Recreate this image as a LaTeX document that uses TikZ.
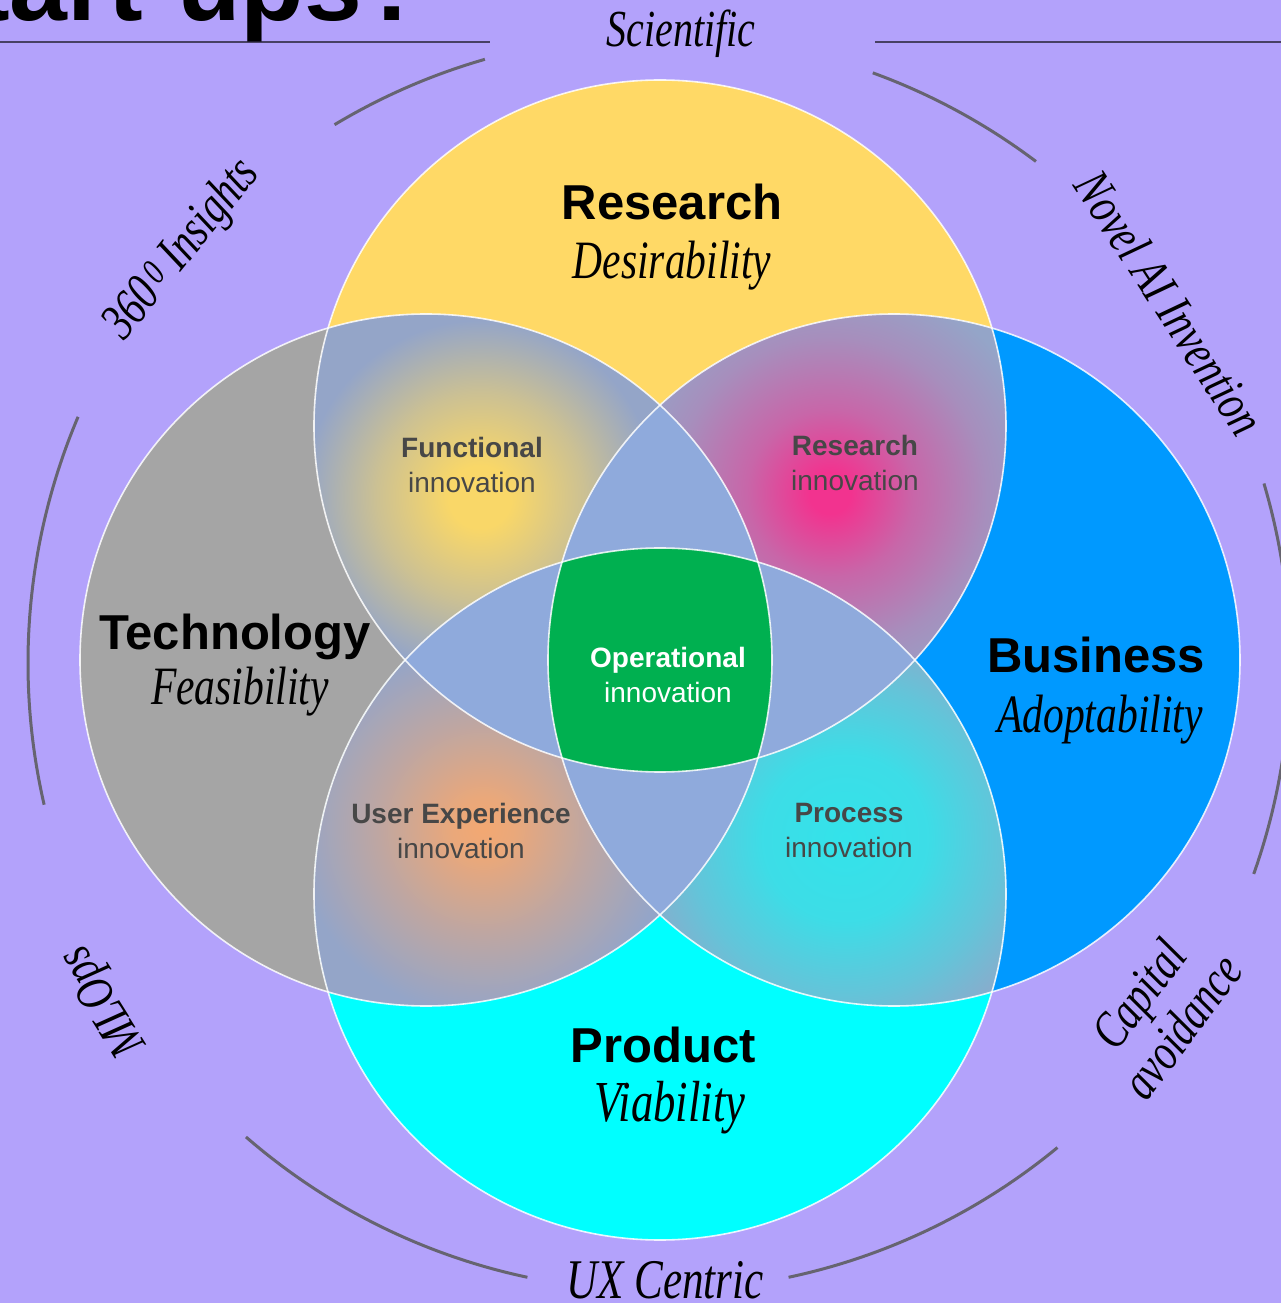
\documentclass[tikz,border=0pt]{standalone}
\usepackage{fontspec}
\setmainfont{Liberation Serif}
\setsansfont{Liberation Sans}
\usetikzlibrary{positioning}

\definecolor{lavender}{HTML}{B3A2FB}
\definecolor{resyellow}{HTML}{FFD966}
\definecolor{techgray}{HTML}{A5A5A5}
\definecolor{busblue}{HTML}{0099FF}
\definecolor{prodcyan}{HTML}{00FFFF}
\definecolor{overlap}{HTML}{8FAADC}
\definecolor{opgreen}{HTML}{00B050}
\definecolor{lensmid}{HTML}{94A5C8}
\definecolor{lensedge}{HTML}{AABCE0}
\definecolor{rimgray}{HTML}{666470}
\definecolor{glowY}{HTML}{F9D768}
\definecolor{glowP}{HTML}{F2338F}
\definecolor{glowO}{HTML}{F3A872}
\definecolor{glowC}{HTML}{33E3EA}

\pgfdeclareradialshading{glowfunc}{\pgfpoint{0bp}{0bp}}{color(0bp)=(glowY); color(3bp)=(glowY); color(10bp)=(glowY!55!lensmid); color(17bp)=(lensmid); color(27bp)=(lensmid); color(42bp)=(lensedge); color(50bp)=(lensedge)}
\pgfdeclareradialshading{glowres}{\pgfpoint{0bp}{0bp}}{color(0bp)=(glowP); color(2bp)=(glowP); color(8bp)=(glowP!55!lensmid); color(15bp)=(glowP!20!lensmid); color(21bp)=(lensmid); color(28bp)=(lensmid); color(42bp)=(lensedge); color(50bp)=(lensedge)}
\pgfdeclareradialshading{glowux}{\pgfpoint{0bp}{0bp}}{color(0bp)=(glowO); color(3bp)=(glowO!90!lensmid); color(10bp)=(glowO!45!lensmid); color(18bp)=(lensmid); color(27bp)=(lensmid); color(42bp)=(lensedge); color(50bp)=(lensedge)}
\pgfdeclareradialshading{glowproc}{\pgfpoint{0bp}{0bp}}{color(0bp)=(glowC); color(8bp)=(glowC!90!lensmid); color(15bp)=(glowC!50!lensmid); color(22bp)=(lensmid); color(29bp)=(lensmid); color(44bp)=(lensedge); color(50bp)=(lensedge)}

\newcommand{\slim}[1]{\scalebox{0.77}[1]{#1}}

\begin{document}
\begin{tikzpicture}[x=1pt,y=1pt,
  every node/.style={inner sep=0pt},
  ring/.style={white, opacity=.85, line width=1.6pt},
  rim/.style={rimgray, line width=3pt},
  rule/.style={black!60!lavender, line width=1.6pt},
  bigname/.style={font=\sffamily\bfseries\fontsize{49}{49}\selectfont, anchor=base},
  quality/.style={font=\itshape\fontsize{54}{54}\selectfont, anchor=base},
  lenstext/.style={font=\sffamily\fontsize{28}{35}\selectfont, align=center, text=black!72},
  rimtext/.style={font=\itshape\fontsize{52}{54}\selectfont, align=center}]
\useasboundingbox (-660,-643) rectangle (621,660);
\clip (-660,-643) rectangle (621,660);
\fill[lavender] (-660,-643) rectangle (621,660);

\coordinate (ro) at (-2,-3);
\coordinate (rc) at (0,234);
\coordinate (tc) at (-234,0);
\coordinate (bc) at (234,0);
\coordinate (pc) at (0,-234);
\coordinate (gfun) at (-180,163);
\coordinate (gres) at (170,167);
\coordinate (gux) at (-177,-168);
\coordinate (gproc) at (185,-178);

\fill[resyellow] (rc) circle (346);
\fill[techgray] (tc) circle (346);
\fill[busblue] (bc) circle (346);
\fill[prodcyan] (pc) circle (346);

\begin{scope}
  \clip (rc) circle (346);
  \clip (tc) circle (346);
  \shade[shading=glowfunc] (gfun) circle (260);
\end{scope}
\begin{scope}
  \clip (rc) circle (346);
  \clip (bc) circle (346);
  \shade[shading=glowres] (gres) circle (260);
\end{scope}
\begin{scope}
  \clip (pc) circle (346);
  \clip (tc) circle (346);
  \shade[shading=glowux] (gux) circle (260);
\end{scope}
\begin{scope}
  \clip (pc) circle (346);
  \clip (bc) circle (346);
  \shade[shading=glowproc] (gproc) circle (260);
\end{scope}

\begin{scope}
  \clip (rc) circle (346);
  \fill[overlap] (pc) circle (346);
\end{scope}
\begin{scope}
  \clip (tc) circle (346);
  \fill[overlap] (bc) circle (346);
\end{scope}
\begin{scope}
  \clip (rc) circle (346);
  \clip (pc) circle (346);
  \clip (tc) circle (346);
  \fill[opgreen] (bc) circle (346);
\end{scope}
\foreach \c in {rc,tc,bc,pc}
  \draw[ring] (\c) circle (346);

\draw[rim] (ro) ++(121:628) arc (121:106:628);
\draw[rim] (ro) ++(70:628) arc (70:53:628);
\draw[rim] (ro) ++(157:630) arc (157:193:630);
\draw[rim] (ro) ++(16.5:632) arc (16.5:-19.5:632);
\draw[rim] (ro) ++(229:628) arc (229:258:628);
\draw[rim] (ro) ++(-78:628) arc (-78:-50.5:628);
\draw[rule] (-660,618) -- (-170,618);
\draw[rule] (215,618) -- (621,618);

\node[font=\sffamily\bfseries\fontsize{104}{104}\selectfont, anchor=base east] (title) at (-234,639) {Start-ups?};

\node[bigname] (research) at (12,440) {Research};
\node[quality] (desir) at (12,381) {\slim{Desirability}};
\node[bigname] (techno) at (-425,10) {Technology};
\node[quality] (feas) at (-420,-45) {\slim{Feasibility}};
\node[bigname] (business) at (436,-13) {Business};
\node[quality] (adopt) at (440,-73) {\slim{Adoptability}};
\node[bigname] (product) at (3,-402) {Product};
\node[quality, font=\itshape\fontsize{58}{58}\selectfont] (viab) at (10,-461) {\slim{Viability}};

\node[lenstext] (functional) at (-188,195) {\textbf{Functional}\\innovation};
\node[lenstext] (resinno) at (195,197) {\textbf{Research}\\innovation};
\node[lenstext] (uxinno) at (-199,-171) {\textbf{User Experience}\\innovation};
\node[lenstext] (procinno) at (189,-171) {\textbf{Process}\\innovation};
\node[lenstext, text=white] (operational) at (8,-15) {\textbf{Operational}\\innovation};

\node[rimtext] (scientific) at (21,626) {\slim{Scientific}};
\node[rimtext, rotate=51] (insights) at (-477,410) {\slim{360\textsuperscript{\,0} Insights}};
\node[rimtext, rotate=-57] (novel) at (510,357) {\slim{Novel AI Invention}};
\node[rimtext, rotate=122] (mlops) at (-555,-340) {\slim{MLOps}};
\node[rimtext, rotate=53] (capital) at (500,-350) {\slim{Capital}\\\slim{avoidance}};
\node[rimtext, font=\itshape\fontsize{56}{56}\selectfont] (uxcentric) at (5,-620) {\slim{UX Centric}};
\end{tikzpicture}
\end{document}
